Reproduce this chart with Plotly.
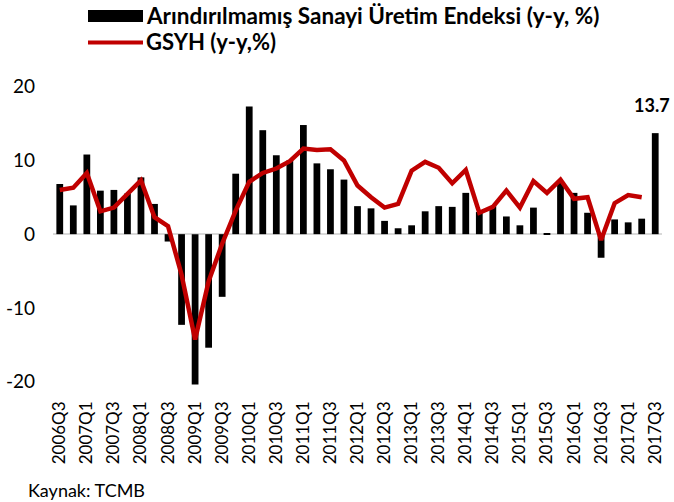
import plotly.graph_objects as go

quarters = [f"{y}Q{q}" for y in range(2006, 2018) for q in range(1, 5)]
quarters = quarters[quarters.index("2006Q3"):quarters.index("2017Q3") + 1]

sanayi = [6.8, 3.9, 10.8, 5.9, 6.0, 5.5, 7.7, 4.1, -1.0, -12.3, -20.4, -15.4, -8.5, 8.2,
          17.3, 14.1, 10.7, 10.0, 14.8, 9.6, 8.8, 7.4, 3.8, 3.5, 1.8, 0.8, 1.2, 3.1, 3.8,
          3.7, 5.6, 3.0, 3.8, 2.4, 1.2, 3.6, 0.1, 7.1, 5.6, 2.9, -3.2, 2.0, 1.6, 2.1, 13.7]

gsyh = [6.0, 6.3, 8.3, 3.1, 3.6, 5.5, 7.3, 2.3, 1.1, -5.5, -14.3, -6.4, -1.3, 3.2,
        7.1, 8.3, 8.9, 9.9, 11.6, 11.4, 11.5, 10.0, 6.6, 5.0, 3.6, 4.1, 8.6, 9.8, 9.0,
        6.9, 8.7, 2.9, 3.7, 5.9, 3.6, 7.2, 5.6, 7.4, 4.8, 5.0, -0.8, 4.2, 5.3, 5.0, None]

tick_labels = quarters[::2]
y_ticks = [-20, -10, 0, 10, 20]
y_tick_text = ["-20", "-10", "0", "10", "20"]

name_bar = "Arındırılmamış Sanayi Üretim Endeksi (y-y, %)"
name_line = "GSYH (y-y,%)"

font_family = "Lato, 'Open Sans', sans-serif"
RED = "#C00000"

W, H = 674, 502
ML, MR, MT, MB = 53, 12, 83, 113
PW, PH = W - ML - MR, H - MT - MB


def px(x):
    return (x - ML) / PW


def py(y):
    return (H - MB - y) / PH


fig = go.Figure()
fig.add_trace(go.Bar(
    x=quarters, y=sanayi, name=name_bar,
    marker=dict(color="black", line=dict(width=0)),
))
fig.add_trace(go.Scatter(
    x=quarters, y=gsyh, name=name_line, mode="lines",
    line=dict(color=RED, width=4.5), connectgaps=False,
))

# value label for the last bar
fig.add_annotation(x=quarters[-1], y=sanayi[-1], text=f"<b>{sanayi[-1]}</b>", showarrow=False,
                   yanchor="bottom", yshift=15, xshift=-3,
                   font=dict(size=18, color="black", family=font_family))

# manual legend
fig.add_shape(type="rect", xref="paper", yref="paper",
              x0=px(88), x1=px(143), y0=py(22), y1=py(10),
              fillcolor="black", line=dict(width=0))
fig.add_shape(type="line", xref="paper", yref="paper",
              x0=px(88), x1=px(143), y0=py(42.5), y1=py(42.5),
              line=dict(color=RED, width=4))
fig.add_annotation(xref="paper", yref="paper", x=px(144), y=py(16), xanchor="left", yanchor="middle",
                   text=f"<b>{name_bar}</b>", showarrow=False,
                   font=dict(size=22.5, color="black", family=font_family))
fig.add_annotation(xref="paper", yref="paper", x=px(144), y=py(41), xanchor="left", yanchor="middle",
                   text=f"<b>{name_line}</b>", showarrow=False,
                   font=dict(size=22, color="black", family=font_family))

fig.add_annotation(xref="paper", yref="paper", x=px(26), y=py(490), xanchor="left", yanchor="middle",
                   text="Kaynak: TCMB", showarrow=False,
                   font=dict(size=18, color="black", family=font_family))

fig.update_layout(
    width=W, height=H,
    margin=dict(l=ML, r=MR, t=MT, b=MB, pad=0),
    paper_bgcolor="white", plot_bgcolor="white",
    bargap=0.5,
    showlegend=False,
    hovermode=False,
    font=dict(family=font_family, color="black"),
)
fig.update_xaxes(
    type="category", range=[-0.5, len(quarters) - 0.5],
    tickmode="array", tickvals=tick_labels, ticktext=tick_labels,
    tickangle=-90, tickfont=dict(size=17), showgrid=False, showline=False, ticks="",
    automargin=False, ticklabelstandoff=8,
)
fig.update_yaxes(
    range=[-21, 20.5], tickmode="array", tickvals=y_ticks, ticktext=y_tick_text,
    tickfont=dict(size=19), showgrid=False, zeroline=True, zerolinecolor="#d9d9d9",
    zerolinewidth=2, showline=False, ticks="", automargin=False, ticklabelstandoff=17,
)

fig.write_html("out.html", config={"displayModeBar": False},
               post_script="document.body.style.margin='0';")
